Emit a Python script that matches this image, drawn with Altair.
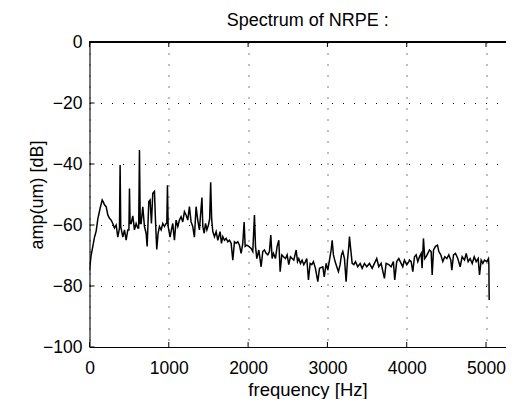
import altair as alt
import pandas as pd

# ---- data ----
freq = [0, 20, 42, 63, 84, 105, 134, 160, 175, 189, 210, 231, 252, 273, 294, 315, 336, 357, 378, 386, 394,
        420, 441, 462, 483, 497, 504, 512, 525, 546, 567, 588, 609, 620, 630, 640, 651, 672, 693, 714, 727,
        748, 764, 781, 798, 819, 832, 848, 865, 882, 903, 924, 945, 966, 975, 983, 992, 1016, 1033, 1050,
        1071, 1092, 1113, 1134, 1155, 1176, 1197, 1218, 1239, 1260, 1281, 1302, 1323, 1344, 1365, 1386,
        1407, 1418, 1429, 1446, 1463, 1480, 1500, 1515, 1528, 1540, 1555, 1576, 1597, 1618, 1647, 1664,
        1681, 1702, 1723, 1744, 1765, 1786, 1807, 1828, 1849, 1870, 1891, 1912, 1933, 1950, 1963, 1984,
        2009, 2038, 2059, 2080, 2093, 2110, 2135, 2164, 2185, 2206, 2227, 2248, 2269, 2286, 2303, 2320,
        2345, 2366, 2387, 2404, 2425, 2446, 2471, 2492, 2513, 2534, 2555, 2576, 2606, 2623, 2639, 2660,
        2681, 2702, 2723, 2740, 2761, 2782, 2803, 2824, 2849, 2879, 2900, 2942, 2960, 2984, 3005, 3026,
        3047, 3060, 3076, 3097, 3118, 3139, 3160, 3177, 3194, 3215, 3236, 3253, 3270, 3278, 3295, 3312,
        3333, 3354, 3383, 3413, 3438, 3467, 3496, 3530, 3564, 3593, 3622, 3648, 3677, 3719, 3740, 3774,
        3803, 3832, 3849, 3874, 3900, 3929, 3950, 3971, 4001, 4026, 4035, 4056, 4077, 4098, 4119, 4140,
        4161, 4182, 4194, 4211, 4228, 4245, 4266, 4287, 4308, 4321, 4338, 4363, 4388, 4405, 4430, 4455,
        4480, 4506, 4531, 4556, 4569, 4590, 4615, 4644, 4674, 4699, 4729, 4750, 4775, 4800, 4826, 4851,
        4876, 4901, 4918, 4939, 4960, 4981, 5010, 5031, 5036, 5040]
amp_db = [-75, -70, -67, -64, -62, -58, -54.5, -51.8, -52.5, -53.4, -54, -56.7, -57.8, -58.4, -59.5, -61,
          -60, -64, -61, -40.3, -60.5, -64, -61.6, -65, -61.6, -61.6, -48, -59.5, -59.5, -57, -61.6, -59.5,
          -61, -61, -35.4, -59.5, -59.5, -54, -60.5, -62.7, -67, -52.3, -51.8, -59.5, -49.6, -49, -58.4,
          -68, -62.7, -60.5, -61.6, -59.5, -60.5, -59.5, -59.5, -47, -60.5, -64, -61.6, -59.5, -65, -58.4,
          -60.5, -58.4, -57.3, -59, -55.6, -56.7, -58.4, -54, -59, -60.5, -64, -54, -58.4, -61.6, -54.5,
          -51, -60.5, -62.7, -59.5, -61.6, -60, -58, -46, -58, -62.2, -63.8, -62.2, -65, -62.2, -66, -63.8,
          -65, -64.4, -65.5, -65, -66, -71.5, -65.5, -66, -65.5, -66.6, -69.3, -66, -59, -67, -66.6, -67,
          -67.7, -68.7, -56.7, -67, -71, -68.2, -73.7, -68.7, -68.2, -69.3, -69.8, -68.7, -63.3, -71,
          -69.3, -71, -67, -65, -75.3, -69.8, -70.4, -71, -69.8, -73, -70.4, -71, -71.5, -68.2, -72, -71,
          -72.6, -71.5, -73, -72, -71, -78, -72.6, -73, -72, -74.2, -78.6, -74.2, -73.7, -77, -72.6,
          -74.8, -71.5, -68.2, -65, -69.8, -72, -73.7, -75.3, -73, -69.8, -68.7, -71, -78.6, -71.5, -67,
          -63.8, -68.2, -72.6, -73, -72, -73.7, -72.6, -74.2, -72.6, -73.7, -72.6, -74.2, -72.6, -71,
          -73.7, -72.6, -77.5, -72.6, -73, -73.7, -72, -78, -72, -71, -72.6, -73.7, -71.5, -73, -72, -71.5,
          -72, -75.3, -70.4, -69.8, -72, -70.4, -69.3, -74.2, -64.4, -71, -70.4, -69.3, -68.2, -68.7,
          -76.4, -68.2, -67, -66.6, -68.7, -69.8, -72, -70.4, -71, -69.8, -71.5, -74.8, -69.8, -69.3, -71,
          -73.7, -70.4, -71.5, -69.3, -72, -71, -72.6, -70.4, -72, -71, -76.4, -71.5, -72.6, -71.5, -72,
          -71, -73, -84.6]

x_ticks = [0, 1000, 2000, 3000, 4000, 5000]
y_ticks = [-100, -80, -60, -40, -20, 0]
title_text = "Spectrum of NRPE :"
x_label = "frequency [Hz]"
y_label = "amp(um) [dB]"

FONT = "Liberation Sans"
W, H = 416.5, 305

df = pd.DataFrame({"f": freq, "db": amp_db})
xt = pd.DataFrame({"f": x_ticks})
yt = pd.DataFrame({"db": y_ticks})

xscale = alt.Scale(domain=[0, 5252], nice=False, zero=False)
yscale = alt.Scale(domain=[-100, 0], nice=False, zero=False)

xaxis = alt.Axis(
    values=x_ticks, format="d", grid=True, gridColor="black", gridDash=[1, 10], gridWidth=1,
    tickSize=0, domainColor="black", domainWidth=1, labelFontSize=17.5, labelFont=FONT,
    labelColor="black", labelPadding=12, labelFlush=False,
    title=x_label, titleFont=FONT, titleFontSize=18.5, titleFontWeight="normal",
    titleColor="black", titleBaseline="alphabetic", titleX=218, titleY=48, titleAlign="center")
yaxis = alt.Axis(
    values=y_ticks, format="d", grid=True, gridColor="black", gridDash=[1, 10], gridWidth=1,
    tickSize=0, domainColor="black", domainWidth=1, labelFontSize=17.5, labelFont=FONT,
    labelColor="black", labelPadding=7.5, labelFlush=False,
    title=y_label, titleFont=FONT, titleFontSize=18, titleFontWeight="normal",
    titleColor="black", titleAngle=270, titleBaseline="alphabetic", titleX=-47.5,
    titleY=152.5, titleAlign="center")

X = alt.X("f:Q", scale=xscale, axis=xaxis)
Y = alt.Y("db:Q", scale=yscale, axis=yaxis)

line = alt.Chart(df).mark_line(color="black", strokeWidth=1.5, clip=True).encode(x=X, y=Y)

tick_bottom = alt.Chart(xt).mark_rule(color="black", strokeWidth=1).encode(
    x=X, y=alt.value(H), y2=alt.value(H - 5))
tick_top = alt.Chart(xt).mark_rule(color="black", strokeWidth=1).encode(
    x=X, y=alt.value(0), y2=alt.value(5))
tick_left = alt.Chart(yt).mark_rule(color="black", strokeWidth=1).encode(
    y=Y, x=alt.value(0), x2=alt.value(5))
top_border = alt.Chart(xt).mark_rule(color="black", strokeWidth=1).encode(
    x=alt.value(0), x2=alt.value(W), y=alt.value(0))

chart = alt.layer(line, tick_bottom, tick_top, tick_left, top_border).properties(
    width=W, height=H,
    title=alt.TitleParams(title_text, font=FONT, fontSize=18, fontWeight="normal", color="black",
                          anchor="middle", baseline="alphabetic", offset=5, dx=10, dy=15.5,
                          frame="group"),
    autosize=alt.AutoSizeParams(type="none"),
    padding={"left": 81.5, "top": 34, "right": 0, "bottom": 52},
).configure_view(stroke=None).configure(background="white")

chart.save("out.html", embed_options={"renderer": "svg", "actions": False})
